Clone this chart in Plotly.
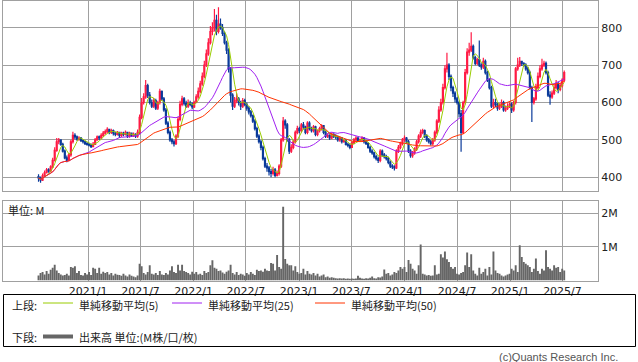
import pandas as pd
import plotly.graph_objects as go

# ---------------- data (weekly) ----------------
start_week = "2020-07-13"

opens = [
    402, 398, 392, 404, 412, 420, 416, 428, 445, 472,
    495, 500, 488, 470, 452, 445, 460, 495, 512, 508,
    502, 505, 498, 495, 490, 488, 486, 482, 488, 500,
    508, 505, 512, 518, 522, 528, 520, 525, 518, 515,
    520, 512, 518, 515, 520, 510, 518, 512, 515, 510,
    520, 560, 600, 615, 645, 620, 600, 590, 605, 585,
    600, 630, 610, 580, 545, 520, 500, 495, 490, 510,
    555, 595, 610, 598, 590, 600, 595, 588, 600, 615,
    630, 650, 670, 700, 730, 760, 790, 800, 820, 790,
    810, 800, 785, 760, 740, 690, 620, 590, 605, 610,
    600, 590, 605, 595, 585, 575, 565, 550, 530, 510,
    495, 480, 450, 430, 425, 415, 410, 420, 405, 410,
    430, 500, 550, 540, 500, 470, 480, 495, 520, 530,
    525, 540, 535, 520, 545, 530, 525, 535, 515, 525,
    530, 538, 520, 510, 512, 505, 515, 510, 508, 500,
    505, 495, 498, 488, 485, 480, 492, 500, 505, 498,
    500, 505, 495, 490, 480, 470, 465, 455, 450, 445,
    470, 460, 455, 450, 440, 430, 428, 425, 470, 480,
    490, 500, 505, 495, 470, 458, 465, 475, 495, 510,
    520, 525, 510, 500, 495, 490, 500, 520, 550, 580,
    600, 640, 690, 700, 670, 640, 625, 610, 600, 570,
    520, 600, 680, 735, 740, 750, 720, 705, 715, 700,
    695, 710, 680, 660, 640, 590, 600, 595, 585, 590,
    600, 580, 585, 590, 595, 580, 600, 690, 700, 710,
    705, 700, 690, 680, 640, 600, 610, 640, 670, 690,
    700, 705, 680, 620, 615, 625, 640, 650, 635, 645,
    660,
]

highs = [
    408, 402, 410, 418, 425, 424, 432, 452, 480, 505,
    505, 502, 492, 474, 458, 465, 500, 522, 518, 512,
    510, 508, 502, 498, 494, 492, 490, 494, 505, 512,
    512, 518, 524, 528, 534, 530, 530, 528, 522, 524,
    522, 522, 522, 525, 522, 522, 520, 520, 518, 528,
    568, 612, 625, 660, 650, 628, 608, 612, 610, 605,
    637, 632, 615, 585, 550, 525, 505, 500, 515, 562,
    605, 618, 615, 605, 608, 605, 600, 605, 622, 640,
    658, 680, 712, 742, 772, 805, 815, 850, 835, 855,
    825, 810, 790, 765, 745, 695, 625, 615, 625, 615,
    605, 612, 610, 600, 590, 580, 568, 555, 535, 515,
    500, 485, 455, 438, 430, 422, 428, 425, 418, 435,
    505, 561, 555, 545, 505, 488, 500, 525, 538, 535,
    545, 548, 538, 550, 550, 535, 540, 538, 528, 535,
    542, 540, 525, 518, 515, 520, 518, 515, 512, 510,
    508, 502, 502, 492, 490, 495, 505, 510, 508, 504,
    510, 508, 500, 494, 484, 475, 468, 460, 455, 475,
    474, 465, 460, 455, 445, 435, 432, 475, 486, 495,
    505, 512, 508, 500, 475, 470, 480, 500, 515, 528,
    530, 528, 515, 505, 500, 505, 525, 555, 590, 610,
    650, 700, 733, 705, 675, 645, 630, 615, 605, 580,
    605, 690, 745, 760, 788, 755, 725, 720, 766, 705,
    720, 715, 685, 665, 645, 610, 610, 600, 598, 608,
    605, 592, 598, 600, 600, 605, 695, 720, 722, 712,
    708, 705, 695, 685, 645, 615, 650, 680, 700, 717,
    712, 710, 685, 630, 632, 648, 660, 655, 652, 665,
    686,
]

lows = [
    388, 385, 390, 400, 410, 412, 414, 425, 442, 468,
    488, 484, 466, 448, 440, 442, 455, 490, 502, 498,
    498, 494, 490, 486, 484, 482, 478, 480, 486, 498,
    500, 502, 508, 514, 518, 515, 516, 512, 510, 512,
    505, 508, 510, 512, 505, 506, 508, 508, 505, 506,
    515, 555, 595, 610, 612, 595, 585, 585, 580, 580,
    595, 605, 575, 540, 515, 495, 488, 482, 486, 505,
    550, 590, 592, 585, 585, 590, 582, 585, 598, 610,
    625, 645, 665, 695, 725, 755, 780, 790, 780, 785,
    795, 778, 755, 730, 680, 600, 580, 585, 598, 592,
    580, 585, 590, 578, 568, 560, 545, 525, 505, 490,
    472, 445, 425, 415, 405, 400, 405, 400, 402, 405,
    425, 495, 530, 495, 462, 465, 475, 490, 515, 518,
    520, 528, 515, 515, 525, 520, 520, 510, 510, 520,
    525, 515, 505, 505, 500, 502, 505, 502, 495, 495,
    490, 492, 485, 480, 475, 478, 488, 495, 494, 494,
    496, 490, 486, 476, 465, 460, 450, 445, 438, 440,
    455, 450, 445, 435, 425, 422, 418, 422, 465, 475,
    485, 495, 490, 465, 452, 452, 460, 470, 490, 505,
    515, 505, 495, 490, 485, 485, 495, 515, 545, 575,
    595, 635, 680, 660, 630, 615, 600, 595, 560, 468,
    515, 595, 675, 725, 735, 715, 700, 700, 695, 688,
    690, 675, 655, 635, 585, 585, 588, 578, 580, 585,
    575, 575, 580, 585, 572, 575, 595, 685, 695, 698,
    695, 685, 675, 635, 548, 595, 605, 635, 665, 685,
    695, 675, 615, 594, 610, 620, 635, 625, 630, 640,
    655,
]

closes = [
    398, 392, 404, 412, 420, 416, 428, 445, 472, 495,
    500, 488, 470, 452, 445, 460, 495, 512, 508, 502,
    505, 498, 495, 490, 488, 486, 482, 488, 500, 508,
    505, 512, 518, 522, 528, 520, 525, 518, 515, 520,
    512, 518, 515, 520, 510, 518, 512, 515, 510, 520,
    560, 600, 615, 645, 620, 600, 590, 605, 585, 600,
    630, 610, 580, 545, 520, 500, 495, 490, 510, 555,
    595, 610, 598, 590, 600, 595, 588, 600, 615, 630,
    650, 670, 700, 730, 760, 790, 800, 820, 790, 810,
    800, 785, 760, 740, 690, 620, 590, 605, 610, 600,
    590, 605, 595, 585, 575, 565, 550, 530, 510, 495,
    480, 450, 430, 425, 415, 410, 420, 405, 410, 430,
    500, 550, 540, 500, 470, 480, 495, 520, 530, 525,
    540, 535, 520, 545, 530, 525, 535, 515, 525, 530,
    538, 520, 510, 512, 505, 515, 510, 508, 500, 505,
    495, 498, 488, 485, 480, 492, 500, 505, 498, 500,
    505, 495, 490, 480, 470, 465, 455, 450, 445, 470,
    460, 455, 450, 440, 430, 428, 425, 470, 480, 490,
    500, 505, 495, 470, 458, 465, 475, 495, 510, 520,
    525, 510, 500, 495, 490, 500, 520, 550, 580, 600,
    640, 690, 700, 670, 640, 625, 610, 600, 570, 520,
    600, 680, 735, 740, 750, 720, 705, 715, 700, 695,
    710, 680, 660, 640, 590, 600, 595, 585, 590, 600,
    580, 585, 590, 595, 580, 600, 690, 700, 710, 705,
    700, 690, 680, 640, 600, 610, 640, 670, 690, 700,
    705, 680, 620, 615, 625, 640, 650, 635, 645, 660,
    680,
]

# volume in millions of shares
volumes = [
    0.15, 0.22, 0.25, 0.18, 0.28, 0.20, 0.32, 0.38, 0.47, 0.30,
    0.22, 0.18, 0.15, 0.16, 0.20, 0.15, 0.40, 0.38, 0.42, 0.22,
    0.28, 0.16, 0.15, 0.22, 0.18, 0.25, 0.16, 0.38, 0.35, 0.22,
    0.38, 0.20, 0.26, 0.22, 0.25, 0.18, 0.22, 0.15, 0.20, 0.17,
    0.16, 0.14, 0.20, 0.15, 0.12, 0.18, 0.14, 0.12, 0.10, 0.15,
    0.50, 0.42, 0.22, 0.18, 0.25, 0.45, 0.20, 0.18, 0.22, 0.16,
    0.28, 0.18, 0.16, 0.22, 0.18, 0.30, 0.42, 0.25, 0.22, 0.47,
    0.30, 0.47, 0.28, 0.25, 0.22, 0.18, 0.26, 0.20, 0.25, 0.18,
    0.20, 0.16, 0.28, 0.22, 0.25, 0.45, 0.60, 0.38, 0.35, 0.28,
    0.30, 0.24, 0.20, 0.26, 0.30, 0.47, 0.22, 0.18, 0.25, 0.16,
    0.20, 0.18, 0.14, 0.22, 0.18, 0.25, 0.20, 0.16, 0.32, 0.28,
    0.30, 0.26, 0.35, 0.30, 0.28, 0.52, 0.50, 0.30, 0.76, 0.40,
    0.35, 2.19, 0.64, 0.50, 0.45, 0.45, 0.30, 0.42, 0.25, 0.20,
    0.22, 0.35, 0.18, 0.28, 0.20, 0.18, 0.22, 0.15, 0.20, 0.12,
    0.15, 0.18, 0.10, 0.12, 0.08, 0.10, 0.08, 0.07, 0.06, 0.07,
    0.06, 0.07, 0.05, 0.06, 0.05, 0.06, 0.05, 0.06, 0.14, 0.08,
    0.06, 0.05, 0.07, 0.06, 0.08, 0.12, 0.07, 0.06, 0.10, 0.09,
    0.12, 0.33, 0.20, 0.22, 0.15, 0.18, 0.25, 0.22, 0.30, 0.40,
    0.35, 0.40, 0.25, 0.61, 0.50, 0.35, 0.30, 0.20, 0.45, 1.07,
    0.20, 0.18, 0.15, 0.16, 0.14, 0.15, 0.45, 0.18, 0.20, 0.78,
    0.68, 0.86, 0.63, 0.55, 0.40, 0.35, 0.40, 0.20, 0.18, 0.22,
    0.25, 0.45, 0.83, 0.40, 0.78, 0.30, 0.20, 0.15, 0.38, 0.20,
    0.25, 0.35, 0.15, 0.40, 0.18, 0.86, 0.30, 0.22, 0.20, 0.15,
    0.12, 0.15, 0.18, 0.20, 0.35, 0.30, 0.45, 0.25, 1.05, 0.70,
    0.55, 0.50, 0.45, 0.40, 0.25, 0.35, 0.65, 0.28, 0.20, 0.35,
    0.30, 0.90, 0.40, 0.35, 0.30, 0.45, 0.38, 0.40, 0.25, 0.35,
    0.30,
]

price_ticks = [400, 500, 600, 700, 800]
vol_ticks = [1, 2]
vol_tick_labels = ["1M", "2M"]
date_ticks = ["2021-01-01", "2021-07-01", "2022-01-01", "2022-07-01", "2023-01-01",
              "2023-07-01", "2024-01-01", "2024-07-01", "2025-01-01", "2025-07-01"]
date_tick_labels = ["2021/1", "2021/7", "2022/1", "2022/7", "2023/1",
                    "2023/7", "2024/1", "2024/7", "2025/1", "2025/7"]
ma_periods = [5, 25, 50]
ma_colors = ["#99cc00", "#a020f0", "#ff3300"]
ma_labels = ["単純移動平均(5)", "単純移動平均(25)", "単純移動平均(50)"]

n = min(len(opens), len(highs), len(lows), len(closes), len(volumes))
dates = pd.date_range(start_week, periods=n, freq="7D")
close_s = pd.Series(closes[:n])

W, H = 638, 362
def px(x):
    return x / W
def py(y):
    return 1 - y / H

GRID = "#a0a0a0"
JP = "Noto Sans CJK JP"
TXT = "DejaVu Sans"

fig = go.Figure()
fig.add_trace(go.Candlestick(
    x=dates, open=opens[:n], high=highs[:n], low=lows[:n], close=closes[:n],
    increasing=dict(line=dict(color="#ff1a44", width=1.2), fillcolor="#ff1a44"),
    decreasing=dict(line=dict(color="#0a3a9a", width=1.2), fillcolor="#0a3a9a"),
    whiskerwidth=0, showlegend=False, xaxis="x", yaxis="y", hoverinfo="skip",
))
for p, c in zip(ma_periods, ma_colors):
    ma = close_s.rolling(p, min_periods=1).mean()
    fig.add_trace(go.Scatter(x=dates, y=ma, mode="lines", line=dict(color=c, width=1),
                             showlegend=False, xaxis="x", yaxis="y", hoverinfo="skip"))
fig.add_trace(go.Bar(x=dates, y=volumes[:n], marker=dict(color="#666666", line=dict(width=0)),
                     showlegend=False, xaxis="x2", yaxis="y2", hoverinfo="skip"))

xr = ["2020-03-12", "2025-11-01"]
common_x = dict(range=xr, type="date", tickvals=date_ticks, ticktext=date_tick_labels,
                showgrid=True, gridcolor=GRID, gridwidth=1, zeroline=False,
                showline=True, linecolor=GRID, linewidth=1, mirror=True, ticks="",
                domain=[px(3), px(598)], fixedrange=True)
fig.update_layout(
    width=W, height=H, autosize=False,
    margin=dict(l=0, r=0, t=0, b=0, pad=0),
    paper_bgcolor="white", plot_bgcolor="white",
    bargap=0.05, showlegend=False, hovermode=False,
    xaxis=dict(**common_x, anchor="y", showticklabels=False, rangeslider=dict(visible=False)),
    xaxis2=dict(**common_x, anchor="y2", showticklabels=True, matches="x",
                tickfont=dict(family=TXT, size=11, color="#222")),
    yaxis=dict(domain=[py(190.7), py(0.5)], range=[364, 873], side="right",
               tickvals=price_ticks, showgrid=True, gridcolor=GRID, zeroline=False,
               showline=True, linecolor=GRID, mirror=True, ticks="", fixedrange=True,
               tickfont=dict(family=TXT, size=11, color="#222"), anchor="x"),
    yaxis2=dict(domain=[py(280.5), py(201)], range=[0, 2.36], side="right",
                tickvals=vol_ticks, ticktext=vol_tick_labels, showgrid=True, gridcolor=GRID,
                zeroline=False, showline=True, linecolor=GRID, mirror=True, ticks="",
                fixedrange=True,
                tickfont=dict(family=TXT, size=11, color="#222"), anchor="x2"),
)

shapes = []
ann = []
LY1, LY2 = 304.5, 336.5
# legend frame
shapes.append(dict(type="rect", xref="paper", yref="paper", x0=px(3.5), x1=px(635.5),
                   y0=py(346.5), y1=py(294.5), line=dict(color="black", width=1)))
ann.append(dict(text="上段:", x=px(11), y=py(LY1), xref="paper", yref="paper",
                xanchor="left", yanchor="middle", showarrow=False, borderpad=0,
                font=dict(family=JP, size=11, color="#222")))
line_x = [(43, 73, 78), (172, 202, 207), (315, 345, 350)]
for (a, b, t), c, lab in zip(line_x, ma_colors, ma_labels):
    shapes.append(dict(type="line", xref="paper", yref="paper", x0=px(a), x1=px(b),
                       y0=py(303), y1=py(303), line=dict(color=c, width=1)))
    ann.append(dict(text=lab, x=px(t), y=py(LY1), xref="paper", yref="paper",
                    xanchor="left", yanchor="middle", showarrow=False, borderpad=0,
                    font=dict(family=JP, size=11, color="#222")))
ann.append(dict(text="下段:", x=px(11), y=py(LY2), xref="paper", yref="paper",
                xanchor="left", yanchor="middle", showarrow=False, borderpad=0,
                font=dict(family=JP, size=11, color="#222")))
shapes.append(dict(type="line", xref="paper", yref="paper", x0=px(43), x1=px(73),
                   y0=py(336.5), y1=py(336.5), line=dict(color="#666666", width=4)))
ann.append(dict(text="出来高 単位:(M株/口/枚)", x=px(78), y=py(LY2), xref="paper", yref="paper",
                xanchor="left", yanchor="middle", showarrow=False, borderpad=0,
                font=dict(family=JP, size=11, color="#222")))
ann.append(dict(text="単位: M", x=px(7), y=py(209.5), xref="paper", yref="paper",
                xanchor="left", yanchor="middle", showarrow=False, borderpad=0,
                font=dict(family=JP, size=11, color="#222")))
ann.append(dict(text="(c)Quants Research Inc.", x=px(619), y=py(356.5), xref="paper", yref="paper",
                xanchor="right", yanchor="middle", showarrow=False, borderpad=0,
                font=dict(family="Liberation Sans", size=11, color="#555")))
fig.update_layout(shapes=shapes, annotations=ann)

fig.write_html("out.html", config={"displayModeBar": False, "staticPlot": True},
               post_script="document.body.style.margin='0';document.body.style.padding='0';document.body.style.overflow='hidden';")
